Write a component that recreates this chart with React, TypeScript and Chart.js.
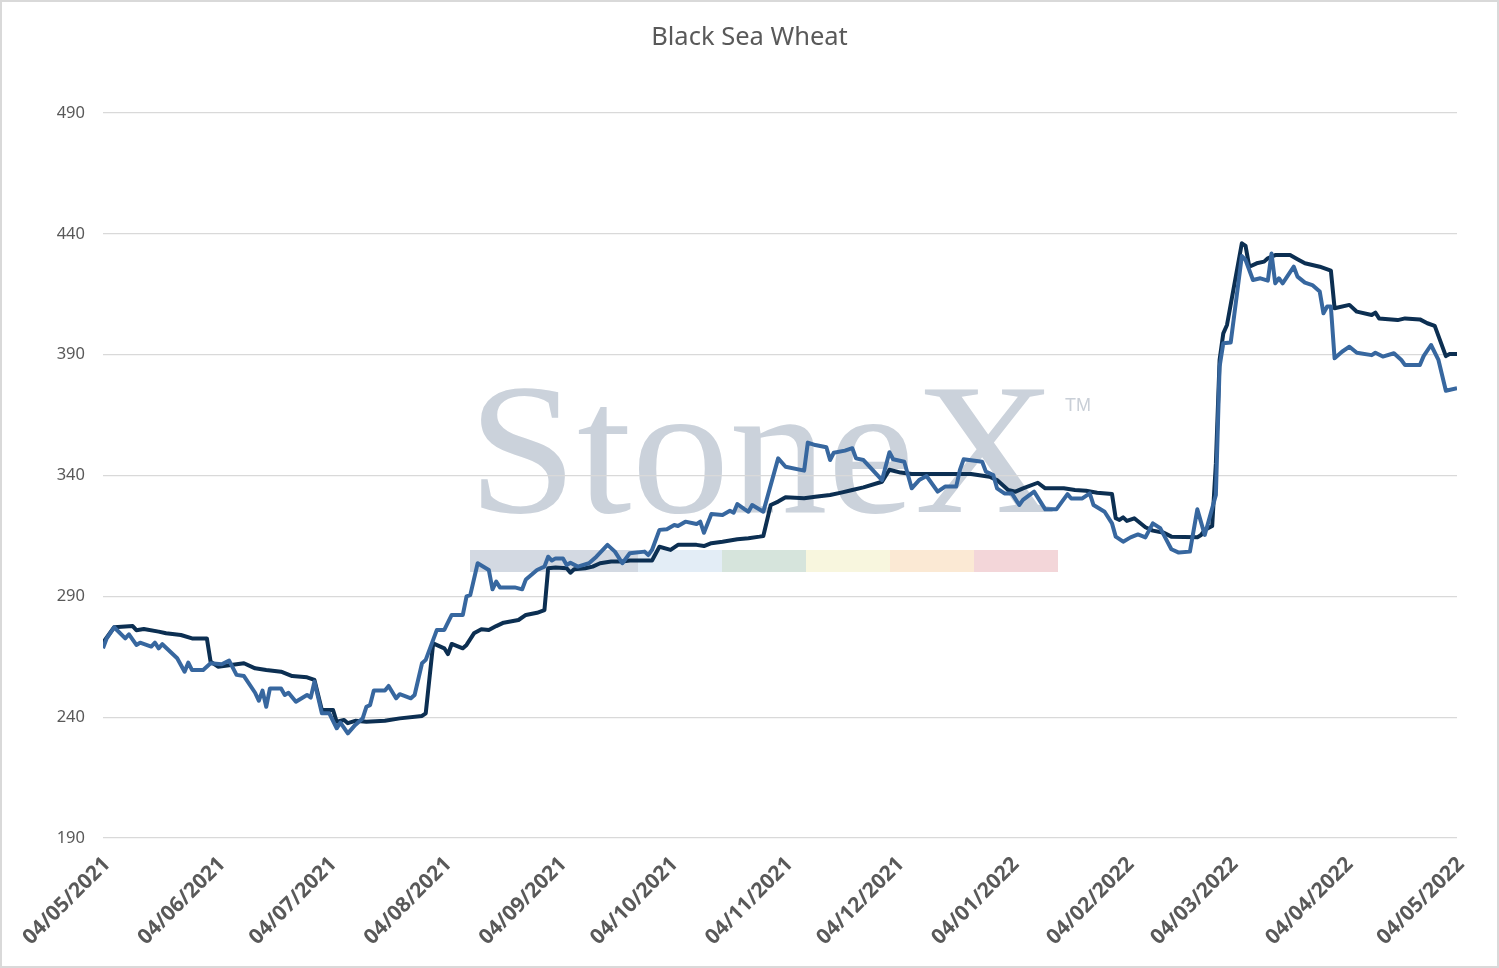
import React, { useEffect, useRef } from 'react';
import { Chart, registerables } from 'chart.js';

Chart.register(...registerables);

// x-axis tick labels (dd/mm/yyyy)
const tickLabels = [
  '04/05/2021', '04/06/2021', '04/07/2021', '04/08/2021', '04/09/2021', '04/10/2021', '04/11/2021',
  '04/12/2021', '04/01/2022', '04/02/2022', '04/03/2022', '04/04/2022', '04/05/2022',
];

// dark navy series
const darkDates = [
  '2021-05-04', '2021-05-07', '2021-05-12', '2021-05-13', '2021-05-15', '2021-05-19', '2021-05-21', '2021-05-25',
  '2021-05-28', '2021-06-01', '2021-06-02', '2021-06-04', '2021-06-11', '2021-06-14', '2021-06-17', '2021-06-21',
  '2021-06-24', '2021-06-28', '2021-06-30', '2021-07-02', '2021-07-05', '2021-07-06', '2021-07-08', '2021-07-09',
  '2021-07-11', '2021-07-14', '2021-07-19', '2021-07-23', '2021-07-29', '2021-07-30', '2021-08-01', '2021-08-04',
  '2021-08-05', '2021-08-06', '2021-08-09', '2021-08-10', '2021-08-12', '2021-08-14', '2021-08-16', '2021-08-18',
  '2021-08-20', '2021-08-24', '2021-08-26', '2021-08-29', '2021-08-31', '2021-09-01', '2021-09-03', '2021-09-06',
  '2021-09-07', '2021-09-08', '2021-09-11', '2021-09-13', '2021-09-15', '2021-09-18', '2021-09-21', '2021-09-23',
  '2021-09-29', '2021-10-01', '2021-10-04', '2021-10-06', '2021-10-11', '2021-10-13', '2021-10-15', '2021-10-18',
  '2021-10-22', '2021-10-25', '2021-10-28', '2021-10-29', '2021-10-31', '2021-11-02', '2021-11-04', '2021-11-09',
  '2021-11-12', '2021-11-16', '2021-11-19', '2021-11-22', '2021-11-25', '2021-11-30', '2021-12-02', '2021-12-05',
  '2021-12-08', '2021-12-16', '2021-12-24', '2021-12-29', '2021-12-31', '2022-01-03', '2022-01-05', '2022-01-07',
  '2022-01-11', '2022-01-13', '2022-01-18', '2022-01-21', '2022-01-24', '2022-01-27', '2022-01-31', '2022-02-01',
  '2022-02-02', '2022-02-03', '2022-02-04', '2022-02-06', '2022-02-09', '2022-02-11', '2022-02-14', '2022-02-16',
  '2022-02-23', '2022-02-24', '2022-02-25', '2022-02-27', '2022-02-28', '2022-03-01', '2022-03-02', '2022-03-03',
  '2022-03-07', '2022-03-08', '2022-03-09', '2022-03-11', '2022-03-13', '2022-03-14', '2022-03-16', '2022-03-20',
  '2022-03-22', '2022-03-24', '2022-03-28', '2022-03-31', '2022-04-01', '2022-04-05', '2022-04-07', '2022-04-11',
  '2022-04-12', '2022-04-13', '2022-04-18', '2022-04-20', '2022-04-24', '2022-04-26', '2022-04-28', '2022-05-01',
  '2022-05-02', '2022-05-04',
];
const darkPrices = [
  270.8, 277.2, 277.7, 276, 276.5, 275.4, 274.7, 274,
  272.6, 272.6, 263, 260.9, 262.3, 260.2, 259.5, 258.8,
  257, 256.5, 255.4, 243, 243, 238.1, 238.8, 237.5,
  238.5, 238.1, 238.5, 239.5, 240.5, 241.6, 270.5, 268.5,
  266.1, 270.3, 268.5, 269.9, 274.7, 276.4, 276.1, 277.7,
  279.1, 280.2, 282.3, 283.2, 284.3, 301.6, 301.9, 301.6,
  299.8, 301.2, 301.6, 302.3, 303.7, 304.4, 304.4, 304.8,
  304.8, 310.5, 309.2, 311.3, 311.3, 310.8, 312, 312.6,
  313.6, 314, 314.7, 315, 327.8, 329.2, 331, 330.6,
  331.2, 331.9, 332.9, 334, 335.1, 337.4, 342.4, 341.2,
  340.6, 340.6, 340.6, 339.5, 338.1, 334, 333.3, 334.7,
  337, 334.7, 334.7, 334, 333.7, 332.9, 332.3, 322.3,
  321.6, 322.7, 321.2, 322.3, 318.6, 317.2, 316.3, 314.7,
  314.4, 315.4, 317.5, 319.1, 345, 387.8, 398.8, 402.3,
  436.1, 435, 426.4, 427.8, 428.5, 429.9, 431.2, 431.2,
  429.5, 427.8, 426.4, 424.8, 409.2, 410.6, 407.8, 406.4,
  407.4, 405, 404.3, 405, 404.6, 403, 401.9, 389.4,
  390.3, 390.3,
];

// medium blue series
const lightDates = [
  '2021-05-04', '2021-05-05', '2021-05-07', '2021-05-10', '2021-05-11', '2021-05-13', '2021-05-14', '2021-05-17',
  '2021-05-18', '2021-05-19', '2021-05-20', '2021-05-24', '2021-05-26', '2021-05-27', '2021-05-28', '2021-05-31',
  '2021-06-02', '2021-06-05', '2021-06-07', '2021-06-09', '2021-06-11', '2021-06-14', '2021-06-15', '2021-06-16',
  '2021-06-17', '2021-06-18', '2021-06-21', '2021-06-22', '2021-06-23', '2021-06-25', '2021-06-28', '2021-06-29',
  '2021-06-30', '2021-07-02', '2021-07-04', '2021-07-06', '2021-07-07', '2021-07-09', '2021-07-11', '2021-07-13',
  '2021-07-14', '2021-07-15', '2021-07-16', '2021-07-19', '2021-07-20', '2021-07-22', '2021-07-23', '2021-07-26',
  '2021-07-27', '2021-07-29', '2021-07-30', '2021-08-02', '2021-08-04', '2021-08-06', '2021-08-09', '2021-08-10',
  '2021-08-11', '2021-08-13', '2021-08-16', '2021-08-17', '2021-08-18', '2021-08-19', '2021-08-23', '2021-08-25',
  '2021-08-26', '2021-08-29', '2021-08-31', '2021-09-01', '2021-09-02', '2021-09-03', '2021-09-05', '2021-09-06',
  '2021-09-07', '2021-09-09', '2021-09-12', '2021-09-14', '2021-09-17', '2021-09-19', '2021-09-21', '2021-09-23',
  '2021-09-27', '2021-09-28', '2021-09-29', '2021-10-01', '2021-10-03', '2021-10-05', '2021-10-06', '2021-10-08',
  '2021-10-11', '2021-10-12', '2021-10-13', '2021-10-15', '2021-10-18', '2021-10-20', '2021-10-21', '2021-10-22',
  '2021-10-24', '2021-10-25', '2021-10-26', '2021-10-29', '2021-11-02', '2021-11-04', '2021-11-09', '2021-11-10',
  '2021-11-12', '2021-11-15', '2021-11-16', '2021-11-17', '2021-11-20', '2021-11-22', '2021-11-23', '2021-11-25',
  '2021-11-30', '2021-12-02', '2021-12-03', '2021-12-06', '2021-12-08', '2021-12-10', '2021-12-12', '2021-12-15',
  '2021-12-17', '2021-12-20', '2021-12-21', '2021-12-22', '2021-12-27', '2021-12-28', '2021-12-30', '2021-12-31',
  '2022-01-02', '2022-01-04', '2022-01-06', '2022-01-07', '2022-01-10', '2022-01-13', '2022-01-16', '2022-01-19',
  '2022-01-20', '2022-01-23', '2022-01-25', '2022-01-26', '2022-01-29', '2022-01-31', '2022-02-01', '2022-02-03',
  '2022-02-05', '2022-02-07', '2022-02-09', '2022-02-11', '2022-02-13', '2022-02-16', '2022-02-18', '2022-02-21',
  '2022-02-23', '2022-02-25', '2022-02-28', '2022-03-01', '2022-03-02', '2022-03-04', '2022-03-07', '2022-03-08',
  '2022-03-10', '2022-03-12', '2022-03-14', '2022-03-15', '2022-03-16', '2022-03-17', '2022-03-18', '2022-03-21',
  '2022-03-22', '2022-03-24', '2022-03-26', '2022-03-28', '2022-03-29', '2022-03-30', '2022-03-31', '2022-04-01',
  '2022-04-03', '2022-04-05', '2022-04-07', '2022-04-11', '2022-04-12', '2022-04-14', '2022-04-17', '2022-04-19',
  '2022-04-20', '2022-04-24', '2022-04-25', '2022-04-27', '2022-04-29', '2022-05-01', '2022-05-04',
];
const lightPrices = [
  268.5, 272.6, 277.2, 272.6, 274.3, 269.9, 270.8, 269.2,
  270.8, 268.5, 270.2, 264.4, 258.8, 262.6, 259.5, 259.5,
  262.3, 261.9, 263.4, 257.5, 257, 250.1, 246.8, 251,
  244.3, 251.9, 251.9, 249.2, 250.1, 246.4, 249.2, 248.1,
  254.7, 241.6, 241.6, 235.4, 237.7, 233.3, 236.8, 239.5,
  244.3, 245, 251, 251, 252.9, 247.8, 249.5, 247.8,
  249.2, 262.3, 263.7, 276.1, 276.1, 282.3, 282.3, 290,
  290.5, 303.7, 300.9, 292.9, 296.1, 293.7, 293.7, 292.9,
  297, 300.9, 302.3, 306.4, 304.8, 305.7, 305.7, 303,
  303.9, 302.3, 303.7, 306.4, 311.3, 308.5, 303.7, 307.8,
  308.5, 307.1, 309.2, 317.5, 317.8, 319.5, 319.1, 320.9,
  319.9, 320.9, 316.3, 324.1, 323.7, 325.4, 324.6, 328.2,
  326, 325, 327.8, 325, 347.1, 343.6, 342, 353.6,
  352.6, 351.7, 346.4, 349.4, 350.3, 351.3, 347.1, 346.4,
  338.1, 349.6, 346.7, 345.7, 334.7, 338.1, 339.8, 333.3,
  335.4, 335.4, 342.3, 346.7, 345.7, 341.6, 340.2, 334.7,
  332.6, 332.6, 327.8, 329.9, 333.3, 326, 326, 332.3,
  330.5, 330.5, 332.6, 327.8, 325, 320.2, 314.7, 312.6,
  314.4, 315.6, 314.4, 320.2, 318.2, 309.5, 308.1, 308.5,
  326, 315.4, 331.9, 385, 394.7, 395, 430.8, 429.2,
  420.9, 421.6, 420.6, 431.9, 419.5, 421.6, 419.5, 426.4,
  422.3, 419.8, 418.8, 416.1, 407.1, 409.9, 409.9, 388.5,
  391.2, 393.3, 390.8, 389.8, 390.8, 389.2, 390.6, 387.8,
  385.7, 385.7, 389.4, 394, 387.8, 375.1, 376.1,
];

const DAY = 86400000;
const START = Date.UTC(2021, 4, 4);
const isoToDay = (s: string) => {
  const [y, m, d] = s.split('-').map(Number);
  return Math.round((Date.UTC(y, m - 1, d) - START) / DAY);
};
const ukToDay = (s: string) => {
  const [d, m, y] = s.split('/').map(Number);
  return Math.round((Date.UTC(y, m - 1, d) - START) / DAY);
};
const tickDays = tickLabels.map(ukToDay);

const toPoints = (dates: string[], prices: number[]) =>
  dates.map((d, i) => ({ x: isoToDay(d), y: prices[i] }));

// StoneX watermark behind the grid, plus the outer chart border
const watermark = {
  id: 'watermark',
  beforeDraw(chart: any) {
    const ctx = chart.ctx;
    ctx.save();
    const strip: [string, number, number][] = [
      ['#d3d9e2', 470, 168],
      ['#e3edf6', 638, 84],
      ['#d6e4dc', 722, 84],
      ['#f8f6de', 806, 84],
      ['#fbe9d4', 890, 84],
      ['#f3d6d9', 974, 84],
    ];
    strip.forEach(([c, x, w]) => {
      ctx.fillStyle = c;
      ctx.fillRect(x, 550, w, 22);
    });
    ctx.font = '186px "Liberation Serif"';
    ctx.textBaseline = 'alphabetic';
    ctx.fillStyle = '#cbd2db';
    const w = ctx.measureText('StoneX').width;
    ctx.translate(468, 512);
    ctx.scale(588 / w, 1);
    ctx.fillText('StoneX', 0, 0);
    ctx.restore();
    ctx.save();
    ctx.font = '18px "Liberation Sans"';
    ctx.fillStyle = '#c9cfd7';
    ctx.textBaseline = 'top';
    ctx.fillText('TM', 1065, 397);
    ctx.restore();
  },
  afterDraw(chart: any) {
    const ctx = chart.ctx;
    ctx.save();
    ctx.strokeStyle = '#d9d9d9';
    ctx.lineWidth = 2;
    ctx.strokeRect(1, 1, chart.width - 2, chart.height - 2);
    ctx.restore();
  },
};

const BlackSeaWheat = () => {
  const canvasRef = useRef<HTMLCanvasElement>(null);

  useEffect(() => {
    const chart = new Chart(canvasRef.current as HTMLCanvasElement, {
      type: 'line',
      data: {
        datasets: [
          {
            label: 'Series 2',
            data: toPoints(lightDates, lightPrices),
            borderColor: '#37679f',
            borderWidth: 4,
            pointRadius: 0,
            tension: 0,
            borderJoinStyle: 'round',
          },
          {
            label: 'Series 1',
            data: toPoints(darkDates, darkPrices),
            borderColor: '#0c2f52',
            borderWidth: 4,
            pointRadius: 0,
            tension: 0,
            borderJoinStyle: 'round',
          },
        ],
      },
      options: {
        animation: false,
        responsive: true,
        maintainAspectRatio: false,
        layout: { padding: 0 },
        plugins: {
          legend: { display: false },
          tooltip: { enabled: false },
          title: {
            display: true,
            text: 'Black Sea Wheat',
            color: '#595959',
            font: { family: '"Noto Sans"', size: 25.5, weight: 'normal', lineHeight: 1.2 },
            padding: { top: 22, bottom: 60.4 },
          },
        },
        scales: {
          x: {
            type: 'linear',
            min: 0,
            max: 365,
            afterBuildTicks: (scale: any) => {
              scale.ticks = tickDays.map((v) => ({ value: v }));
            },
            afterFit: (scale: any) => {
              scale.height = 130;
            },
            grid: { display: false },
            border: { display: false },
            ticks: {
              autoSkip: false,
              minRotation: 45,
              maxRotation: 45,
              padding: 6,
              labelOffset: 4,
              color: '#595959',
              font: { family: '"Noto Sans"', size: 21, weight: 'bold' },
              callback: (v: any) => {
                const i = tickDays.indexOf(Number(v));
                return i >= 0 ? tickLabels[i] : '';
              },
            },
          },
          y: {
            min: 190,
            max: 490,
            afterFit: (scale: any) => {
              scale.width = 103;
            },
            grid: { color: '#d9d9d9', lineWidth: 1.3, drawTicks: false },
            border: { display: false },
            ticks: {
              stepSize: 50,
              padding: 18,
              color: '#595959',
              font: { family: '"Noto Sans"', size: 16.5 },
            },
          },
          // empty right-hand axis that only reserves the right margin
          yRight: {
            position: 'right',
            min: 190,
            max: 490,
            afterFit: (scale: any) => {
              scale.width = 42;
            },
            grid: { display: false, drawTicks: false },
            border: { display: false },
            ticks: { display: false },
          },
        },
      },
      plugins: [watermark],
    });

    return () => {
      chart.destroy();
    };
  }, []);

  return (
    <div style={{ position: 'fixed', left: 0, top: 0, width: 1499, height: 968, background: '#fff' }}>
      <canvas ref={canvasRef} />
    </div>
  );
};

export default function App() {
  return <BlackSeaWheat />;
}
